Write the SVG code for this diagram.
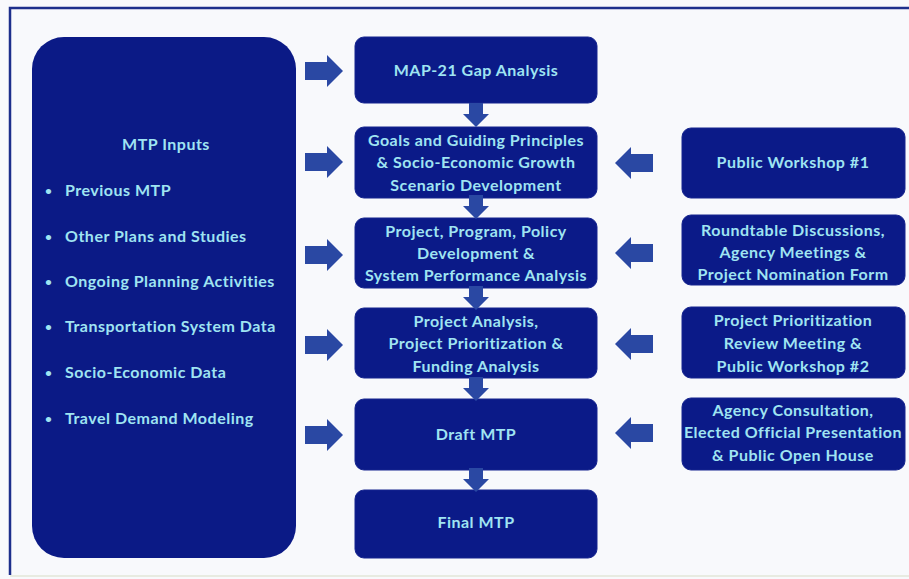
<svg xmlns="http://www.w3.org/2000/svg" width="909" height="579" viewBox="0 0 909 579">
<style>
.bg{fill:#f8f9fc}
.frame{stroke:#1d2f8c;stroke-width:2.5;fill:none}
.box{fill:#0b1a88;stroke:#16258f;stroke-width:1}
.panel{fill:#0b1a86}
.t{font-family:Lato,"Open Sans","Liberation Sans",sans-serif;font-weight:bold;font-size:16px;letter-spacing:0.5px;fill:#9fe4f2;text-anchor:middle}
.l{text-anchor:start}
.b{font-size:12px}
.arr{fill:#2a48a3}
</style>
<rect class="bg" x="0" y="0" width="909" height="579"/>
<path class="frame" d="M10,575 L10,8 L909,8"/>
<line x1="10" y1="576" x2="909" y2="576" stroke="#e3e6d8" stroke-width="1.5"/>

<g id="inputs">
<rect class="panel" x="32" y="37" width="264" height="521" rx="32"/>
<text class="t" x="166" y="150">MTP Inputs</text>
<text class="t l b" x="45" y="195">•</text><text class="t l" x="65" y="196">Previous MTP</text>
<text class="t l b" x="45" y="241">•</text><text class="t l" x="65" y="242">Other Plans and Studies</text>
<text class="t l b" x="45" y="286">•</text><text class="t l" x="65" y="287">Ongoing Planning Activities</text>
<text class="t l b" x="45" y="331">•</text><text class="t l" x="65" y="332">Transportation System Data</text>
<text class="t l b" x="45" y="377">•</text><text class="t l" x="65" y="378">Socio-Economic Data</text>
<text class="t l b" x="45" y="423">•</text><text class="t l" x="65" y="424">Travel Demand Modeling</text>
</g>

<g id="map21">
<rect class="box" x="355" y="37" width="242" height="66" rx="9"/>
<text class="t" x="476" y="76">MAP-21 Gap Analysis</text>
</g>
<g id="goals">
<rect class="box" x="355" y="127" width="242" height="71" rx="9"/>
<text class="t" x="476" y="146">Goals and Guiding Principles</text>
<text class="t" x="476" y="168">&amp; Socio-Economic Growth</text>
<text class="t" x="476" y="191">Scenario Development</text>
</g>
<g id="project-program">
<rect class="box" x="355" y="218" width="242" height="70" rx="9"/>
<text class="t" x="476" y="237">Project, Program, Policy</text>
<text class="t" x="476" y="259">Development &amp;</text>
<text class="t" x="476" y="281">System Performance Analysis</text>
</g>
<g id="project-analysis">
<rect class="box" x="355" y="308" width="242" height="70" rx="9"/>
<text class="t" x="476" y="327">Project Analysis,</text>
<text class="t" x="476" y="349">Project Prioritization &amp;</text>
<text class="t" x="476" y="372">Funding Analysis</text>
</g>
<g id="draft">
<rect class="box" x="355" y="399" width="242" height="71" rx="9"/>
<text class="t" x="476" y="440">Draft MTP</text>
</g>
<g id="final">
<rect class="box" x="355" y="490" width="242" height="68" rx="9"/>
<text class="t" x="476" y="528">Final MTP</text>
</g>

<g id="workshop1">
<rect class="box" x="682" y="128" width="223" height="70" rx="9"/>
<text class="t" x="793" y="168">Public Workshop #1</text>
</g>
<g id="roundtable">
<rect class="box" x="682" y="215" width="223" height="70" rx="9"/>
<text class="t" x="793" y="236">Roundtable Discussions,</text>
<text class="t" x="793" y="258">Agency Meetings &amp;</text>
<text class="t" x="793" y="280">Project Nomination Form</text>
</g>
<g id="prioritization-review">
<rect class="box" x="682" y="307" width="223" height="71" rx="9"/>
<text class="t" x="793" y="326">Project Prioritization</text>
<text class="t" x="793" y="349">Review Meeting &amp;</text>
<text class="t" x="793" y="372">Public Workshop #2</text>
</g>
<g id="consultation">
<rect class="box" x="682" y="398" width="223" height="72" rx="9"/>
<text class="t" x="793" y="416">Agency Consultation,</text>
<text class="t" x="793" y="438">Elected Official Presentation</text>
<text class="t" x="793" y="461">&amp; Public Open House</text>
</g>

<defs>
<path id="ra" d="M-19,-9 L3,-9 L3,-16 L19,0 L3,16 L3,9 L-19,9 Z"/>
<path id="da" d="M-7,-12 L7,-12 L7,-1 L13,-1 L0,12 L-13,-1 L-7,-1 Z"/>
</defs>
<g id="connectors" class="arr">
<use href="#ra" x="324" y="71"/>
<use href="#ra" x="324" y="162"/>
<use href="#ra" x="324" y="255"/>
<use href="#ra" x="324" y="345"/>
<use href="#ra" x="324" y="435"/>
<use href="#ra" transform="translate(634,163) scale(-1,1)"/>
<use href="#ra" transform="translate(634,253) scale(-1,1)"/>
<use href="#ra" transform="translate(634,344) scale(-1,1)"/>
<use href="#ra" transform="translate(634,433) scale(-1,1)"/>
<use href="#da" x="476" y="115"/>
<use href="#da" x="476" y="207"/>
<use href="#da" x="476" y="298"/>
<use href="#da" x="476" y="389"/>
<use href="#da" x="476" y="480"/>
</g>
</svg>
